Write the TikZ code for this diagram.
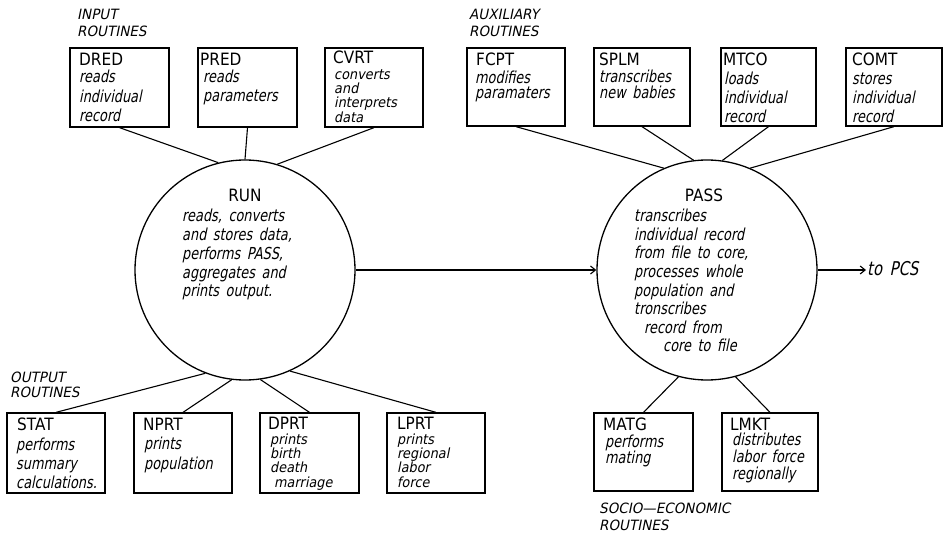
\documentclass[tikz,border=0pt]{standalone}
\usepackage{fontspec}
\usetikzlibrary{arrows.meta}

% lettering: upright names, slanted descriptions and group headings
\newfontfamily\namefont[FakeStretch=0.9]{DejaVu Sans}
\newfontfamily\handfont[FakeStretch=0.78,FakeSlant=0.2,WordSpace=1.6]{DejaVu Sans}
\newfontfamily\tightfont[FakeStretch=0.92,FakeSlant=0.2,WordSpace=1.6]{DejaVu Sans}
\newfontfamily\headfont[FakeStretch=0.95,FakeSlant=0.2]{DejaVu Sans}

% stacked lines at an exact line pitch; the baseline is that of the first line
\newcommand\stacklines[2]{\lineskiplimit=-\maxdimen\lineskip=0pt\def\\{\cr}%
  \vtop{\halign{##\hfil\cr#2\crcr}}}
\newcommand\handlines[2]{{\handfont\fontsize{16.5bp}{#1}\selectfont\stacklines{}{#2}}}
\newcommand\tightlines[2]{{\tightfont\fontsize{14bp}{#1}\selectfont\stacklines{}{#2}}}
\newcommand\headlines[2]{{\headfont\fontsize{14.2bp}{#1}\selectfont\stacklines{}{#2}}}

\tikzset{
  box/.style 2 args={draw, line width=1.3bp, inner sep=0pt,
    minimum width=#1bp, minimum height=#2bp},
  routine/.style={draw, circle, line width=1.3bp, inner sep=0pt, minimum size=220bp},
  rname/.style={inner sep=0pt, anchor=base west, font=\namefont\fontsize{17bp}{17bp}\selectfont},
  rtext/.style={inner sep=0pt, anchor=base west},
  link/.style={line width=1.1bp},
  flow/.style={line width=1.1bp, -{Straight Barb[length=5bp,width=8bp,line width=1.1bp]}}
}

\begin{document}
\begin{tikzpicture}[x=1bp, y=-1bp]
\fill[white] (0,0) rectangle (944,537);
\useasboundingbox (0,0) rectangle (944,537);

% ---- main routines
\node[routine] (run)  at (245,270) {};
\node[routine] (pass) at (707,270) {};
\node[inner sep=0pt, anchor=base, font=\namefont\fontsize{17bp}{17bp}\selectfont] (runn) at (245,201.7) {RUN};
\node[rtext] (rund) at (182,221.7) {\handlines{18.8bp}{reads, converts\\and stores data,\\performs PASS,\\aggregates and\\prints output.}};
\node[inner sep=0pt, anchor=base, font=\namefont\fontsize{17bp}{17bp}\selectfont] (passn) at (704,201.7) {PASS};
\node[rtext] (passd) at (634,221.7) {\handlines{18.6bp}{transcribes\\individual record\\from file to core,\\processes whole\\population and\\tronscribes\\\hspace*{10bp}record from\\\hspace*{29bp}core to file}};

% ---- input routines
\node[rtext] (inputh) at (77,20) {\headlines{17bp}{INPUT\\ROUTINES}};
\node[box={99}{79}] (dred) at (119.5,87.5) {};
\node[rname] (dredn) at (79,66) {DRED};
\node[rtext] (dredd) at (79,82.7) {\handlines{19.5bp}{reads\\individual\\record}};
\node[box={99}{79}] (pred) at (247.5,87.5) {};
\node[rname] (predn) at (200,66) {PRED};
\node[rtext] (predd) at (203,82.7) {\handlines{19bp}{reads\\parameters}};
\node[box={98}{79}] (cvrt) at (374,87.5) {};
\node[rname] (cvrtn) at (333,64) {CVRT};
\node[rtext] (cvrtd) at (334,79.5) {\tightlines{14.2bp}{converts\\and\\interprets\\data}};

% ---- auxiliary routines
\node[rtext] (auxh) at (469,20) {\headlines{17bp}{AUXILIARY\\ROUTINES}};
\node[box={98}{78}] (fcpt) at (516,87) {};
\node[rname] (fcptn) at (476,65.7) {FCPT};
\node[rtext] (fcptd) at (475,83.3) {\handlines{15.5bp}{modifies\\paramaters}};
\node[box={96}{78}] (splm) at (642,87) {};
\node[rname] (splmn) at (599,65.7) {SPLM};
\node[rtext] (splmd) at (599,83) {\handlines{16bp}{transcribes\\new babies}};
\node[box={95}{78}] (mtco) at (768.5,87) {};
\node[rname] (mtcon) at (723,65.7) {MTCO};
\node[rtext] (mtcod) at (724,85) {\handlines{19bp}{loads\\individual\\record}};
\node[box={96}{78}] (comt) at (894,87) {};
\node[rname] (comtn) at (852,65.7) {COMT};
\node[rtext] (comtd) at (852,85) {\handlines{19bp}{stores\\individual\\record}};

% ---- output routines
\node[rtext] (outh) at (10,382) {\headlines{15bp}{OUTPUT\\ROUTINES}};
\node[box={98}{80}] (stat) at (56,453) {};
\node[rname] (statn) at (17,430.7) {STAT};
\node[rtext] (statd) at (16,450) {\handlines{19bp}{performs\\summary\\calculations.}};
\node[box={98}{80}] (nprt) at (183,453) {};
\node[rname] (nprtn) at (143,430.7) {NPRT};
\node[rtext] (nprtd) at (144,449) {\handlines{20.5bp}{prints\\population}};
\node[box={99}{80}] (dprt) at (309.5,453) {};
\node[rname] (dprtn) at (268,429) {DPRT};
\node[rtext] (dprtd) at (270,444.5) {\tightlines{14.2bp}{prints\\birth\\death\\\hspace*{4bp}marriage}};
\node[box={98}{80}] (lprt) at (436,453) {};
\node[rname] (lprtn) at (397,429) {LPRT};
\node[rtext] (lprtd) at (397,444.5) {\tightlines{14.2bp}{prints\\regional\\labor\\force}};

% ---- socio-economic routines
\node[box={99}{78}] (matg) at (643.5,452) {};
\node[rname] (matgn) at (603,430) {MATG};
\node[rtext] (matgd) at (605,447) {\handlines{16bp}{performs\\mating}};
\node[box={96}{78}] (lmkt) at (770,452) {};
\node[rname] (lmktn) at (730,430) {LMKT};
\node[rtext] (lmktd) at (732,445.5) {\handlines{16.8bp}{distributes\\labor force\\regionally}};
\node[rtext] (socioh) at (599,513) {\headlines{17bp}{SOCIO—ECONOMIC\\ROUTINES}};

% ---- exit label
\node[rtext, font=\handfont\fontsize{19bp}{19bp}\selectfont] (pcs) at (867,276) {to PCS};

% ---- connectors
\draw[link] (dred.south) -- (run.104.7);
\draw[link] (pred.south) -- (run.90);
\draw[link] (cvrt.south) -- (run.73.4);
\draw[link] (stat.north) -- (run.249);
\draw[link] (nprt.north) -- (run.263.8);
\draw[link] (dprt.north) -- (run.278.8);
\draw[link] (lprt.north) -- (run.294.5);

\draw[link] (fcpt.south) -- (pass.113.1);
\draw[link] (splm.south) -- (pass.97.7);
\draw[link] (mtco.south) -- (pass.82.2);
\draw[link] (comt.south) -- (pass.67.3);
\draw[link] (matg.north) -- (pass.255);
\draw[link] (lmkt.north) -- (pass.285);

\draw[flow] (run.east) -- (pass.west);
\draw[flow] (pass.east) -- ([xshift=-1bp]pass.east -| pcs.west);
\end{tikzpicture}
\end{document}
